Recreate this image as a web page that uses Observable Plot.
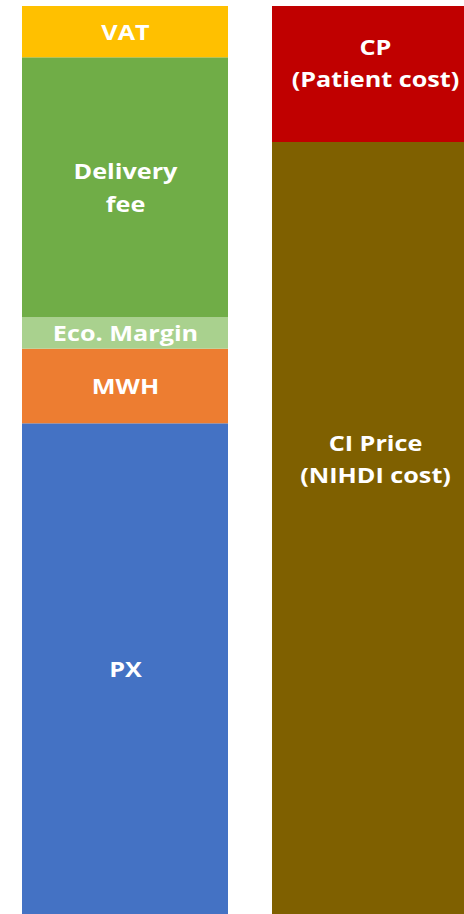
<!DOCTYPE html>
<html><head><meta charset="utf-8">
<script src="https://cdn.jsdelivr.net/npm/d3@7"></script>
<script src="https://cdn.jsdelivr.net/npm/@observablehq/plot@0.6"></script>
<style>body{margin:0;background:#fff;overflow:hidden}#chart svg{display:block}</style>
</head><body><div id="chart"></div>
<script>
// Bars (categories)
const bars = ["Price build-up", "Reimbursement"];

// Left bar: segments bottom → top
const leftLabels = ["PX", "MWH", "Eco. Margin", "Delivery\nfee", "VAT"];
const leftValues = [490.7, 74.6, 31.4, 260.0, 51.3];
const leftColors = ["#4472C4", "#ED7D31", "#A9D18E", "#70AD47", "#FFC000"];

// Right bar: segments bottom → top
const rightLabels = ["CI Price\n(NIHDI cost)", "CP\n(Patient cost)"];
const rightValues = [772.0, 136.0];
const rightColors = ["#7F6000", "#C00000"];

function build(bar, labels, values, colors) {
  let acc = 0;
  return labels.map((label, i) => {
    const y1 = acc; acc += values[i];
    return {bar, label, value: values[i], color: colors[i], mid: (y1 + acc) / 2};
  });
}
const leftRows = build(bars[0], leftLabels, leftValues, leftColors);
const rightRows = build(bars[1], rightLabels, rightValues, rightColors);
const rows = leftRows.concat(rightRows);
const total = d3.sum(leftValues);

const textStyle = {fill: "white", fontSize: 21, fontWeight: "bold", fontFamily: "Open Sans", lineHeight: 1.56};

const chart = Plot.plot({
  width: 464,
  height: 914,
  margin: 0,
  x: {domain: bars, range: [22, 478], paddingInner: 0.176, paddingOuter: 0, axis: null},
  y: {domain: [0, total], range: [914, 6], axis: null},
  marks: [
    Plot.barY(rows, Plot.stackY({x: "bar", y: "value", fill: "color", inset: 0})),
    Plot.text(leftRows, {x: "bar", y: "mid", text: "label", dy: -3, ...textStyle}),
    Plot.text([rightRows[1]], {x: "bar", y: "mid", text: "label", dy: -14, ...textStyle}),
    Plot.text([rightRows[0]], {x: "bar", y: "mid", text: "label", dy: -72, ...textStyle})
  ]
});
chart.querySelectorAll("text").forEach(t => {
  const tr = t.getAttribute("transform") || "";
  t.setAttribute("transform", tr + " scale(1.2,1)");
});
document.getElementById("chart").appendChild(chart);
</script>
</body></html>
